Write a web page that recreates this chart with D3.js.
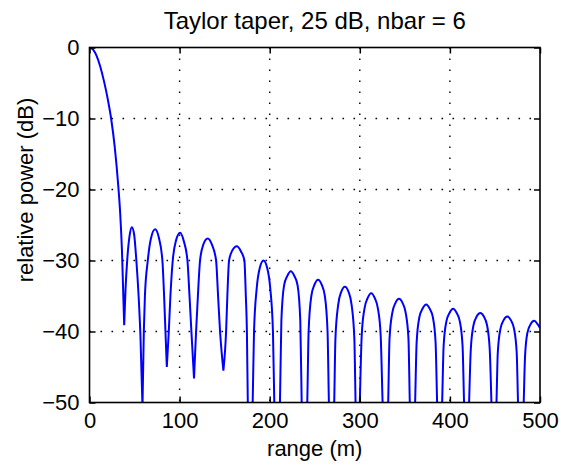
<!DOCTYPE html>
<html>
<head>
<meta charset="utf-8">
<script src="https://cdn.jsdelivr.net/npm/d3@7"></script>
<style>
  html, body { margin: 0; padding: 0; background: #fff; }
  svg { display: block; }
  text { font-family: "Liberation Sans", Arial, Helvetica, sans-serif; fill: #000; }
</style>
</head>
<body>
<svg id="chart" width="561" height="466"></svg>
<script>
// ---- data ----
const titleText = "Taylor taper, 25 dB, nbar = 6";
const xLabelText = "range (m)";
const yLabelText = "relative power (dB)";
const xTicks = [0, 100, 200, 300, 400, 500];
const yTicks = [0, -10, -20, -30, -40, -50];
const xGrid = [100, 200, 300, 400];
const yGrid = [-10, -20, -30, -40];

// range (m) samples of the pattern
const rangeM = [
  0, 4, 8, 12, 16, 20, 24, 28, 32, 34, 36, 38.5,
  40, 42, 44.5, 47, 49.5, 52, 54.5, 56.5, 58.8,
  60.3, 61.5, 64.7, 68, 72.8, 77, 80.9, 82.8, 84.3, 85.8,
  88, 89.8, 92.4, 96, 100.6, 104.5, 108.7, 111, 113.1, 116,
  118.3, 120.3, 122.7, 126.5, 131.2, 136, 140.5, 142.7, 144.9, 148.6,
  151.6, 153, 154.9, 158.5, 163.4, 168, 171.9, 173.5, 174.7, 175.7, 178.2,
  181.1, 182.6, 185.6, 189.1, 193.1, 197.1, 200.6, 203.6, 205.1, 208.25,
  211.4, 212.95, 215.95, 219.45, 223.45, 227.45, 230.95, 233.95, 235.5, 238.6,
  241.7, 243.2, 246.2, 249.7, 253.7, 257.7, 261.2, 264.2, 265.7, 268.65,
  271.6, 272.95, 275.95, 279.45, 283.45, 287.45, 290.95, 293.95, 295.3, 297.65,
  300, 302.15, 305.15, 308.65, 312.65, 316.65, 320.15, 323.15, 325.3, 328.4,
  331.5, 333, 336, 339.5, 343.5, 347.5, 351, 354, 355.5, 358.45,
  361.4, 363.1, 366.1, 369.6, 373.6, 377.6, 381.1, 384.1, 385.8, 388.6,
  391.4, 393.05, 396.05, 399.55, 403.55, 407.55, 411.05, 414.05, 415.7, 418.5,
  421.3, 423.2, 426.2, 429.7, 433.7, 437.7, 441.2, 444.2, 446.1, 448.9,
  451.7, 453.15, 456.15, 459.65, 463.65, 467.65, 471.15, 474.15, 475.6, 478.75,
  481.9, 483.4, 486, 489.5, 493.5, 497.5, 500
];
// relative power (dB) at those samples
const powerDb = [
  0, -0.3, -1.2, -2.7, -4.7, -7.1, -10, -14, -19.6, -23.2, -28.5, -39.1,
  -34, -29.7, -26.5, -25.3, -26.3, -30, -35, -40.5, -50.5,
  -40, -35, -30, -27, -25.6, -26.8, -30, -35, -40, -45,
  -40, -35, -30, -27.2, -26.1, -27.2, -30, -35, -40, -46.6,
  -40, -35, -30, -27.7, -26.9, -27.8, -30, -35, -40, -45.5,
  -40, -35, -30, -28.6, -28, -28.7, -30, -35, -40, -50, -62,
  -50, -40, -33.9, -31, -30, -31, -33.9, -40, -50, -62,
  -50, -38.5, -33.5, -32.2, -31.5, -32.2, -33.5, -38.5, -50, -62,
  -50, -40, -35, -33.4, -32.7, -33.4, -35, -40, -50, -62,
  -50, -41, -36.3, -34.4, -33.7, -34.4, -36.3, -41, -50, -62,
  -50, -40.5, -36.8, -35.3, -34.6, -35.3, -36.8, -40.5, -50, -62,
  -50, -41, -37.4, -36, -35.4, -36, -37.4, -41, -50, -62,
  -50, -41.5, -38, -36.8, -36.2, -36.8, -38, -41.5, -50, -62,
  -50, -42, -38.6, -37.4, -36.8, -37.4, -38.6, -42, -50, -62,
  -50, -42.5, -39.1, -37.9, -37.4, -37.9, -39.1, -42.5, -50, -62,
  -50, -43, -39.6, -38.4, -37.9, -38.4, -39.6, -43, -50, -62,
  -50, -43.5, -40.2, -39, -38.5, -39, -39.5
];
// null positions (m) where the pattern has its cusps
const nullRange = [38.5, 58.8, 85.8, 116, 148.6, 178.2, 208.25, 238.6, 268.65,
  297.65, 328.4, 358.45, 388.6, 418.5, 448.9, 478.75];

// ---- layout ----
const svg = d3.select("#chart");
const L = 89.5, R = 540, T = 47.5, B = 402.5;
const x = d3.scaleLinear().domain([0, 500]).range([L, R]);
const y = d3.scaleLinear().domain([-50, 0]).range([B, T]);
const FS = 22;

// grid
const grid = svg.append("g").attr("stroke", "#000").attr("stroke-width", 1.4)
  .attr("stroke-dasharray", "1.6,9.4").attr("fill", "none");
grid.selectAll(".vg").data(xGrid).join("line")
  .attr("x1", d => x(d)).attr("x2", d => x(d)).attr("y1", T).attr("y2", B);
grid.selectAll(".hg").data(yGrid).join("line")
  .attr("y1", d => y(d)).attr("y2", d => y(d)).attr("x1", L).attr("x2", R);

// curve (split into lobes at nulls so cusps stay sharp)
const pts = rangeM.map((r, i) => [r, powerDb[i]]);
const lobes = [];
let cur = [];
pts.forEach(p => {
  cur.push(p);
  if (nullRange.includes(p[0])) { lobes.push(cur); cur = [p]; }
});
if (cur.length > 1) lobes.push(cur);

svg.append("clipPath").attr("id", "clip").append("rect")
  .attr("x", L).attr("y", T - 1).attr("width", R - L).attr("height", B - T + 1);
const line = d3.line().x(d => x(d[0])).y(d => y(d[1])).curve(d3.curveMonotoneX);
svg.append("path")
  .attr("clip-path", "url(#clip)")
  .attr("d", lobes.map(l => line(l)).join(""))
  .attr("fill", "none").attr("stroke", "#0000ff").attr("stroke-width", 2)
  .attr("stroke-linejoin", "round");

// axes
const fmt = d => d3.format("d")(d).replace("-", "\u2212");
const xAxis = svg.append("g").attr("transform", `translate(0,${B})`)
  .call(d3.axisBottom(x).tickValues(xTicks).tickSize(-6).tickPadding(10).tickFormat(fmt));
const xAxisTop = svg.append("g").attr("transform", `translate(0,${T})`)
  .call(d3.axisTop(x).tickValues(xTicks).tickSize(-6).tickFormat(""));
const yAxis = svg.append("g").attr("transform", `translate(${L},0)`)
  .call(d3.axisLeft(y).tickValues(yTicks).tickSize(-6).tickPadding(10).tickFormat(fmt));
const yAxisR = svg.append("g").attr("transform", `translate(${R},0)`)
  .call(d3.axisRight(y).tickValues(yTicks).tickSize(-6).tickFormat(""));
[xAxis, xAxisTop, yAxis, yAxisR].forEach(g => {
  g.select(".domain").remove();
  g.selectAll(".tick line").attr("stroke", "#000").attr("stroke-width", 1.5);
  g.selectAll("text").attr("font-size", FS).attr("fill", "#000")
    .attr("font-family", "'Liberation Sans', Arial, sans-serif");
});

// frame
svg.append("rect").attr("x", L).attr("y", T).attr("width", R - L).attr("height", B - T)
  .attr("fill", "none").attr("stroke", "#000").attr("stroke-width", 1.6);

// title & labels
svg.append("text").attr("x", (L + R) / 2).attr("y", 29).attr("text-anchor", "middle")
  .attr("font-size", 24).text(titleText);
svg.append("text").attr("x", (L + R) / 2).attr("y", 456).attr("text-anchor", "middle")
  .attr("font-size", FS).text(xLabelText);
svg.append("text").attr("transform", "translate(33,190) rotate(-90)")
  .attr("text-anchor", "middle").attr("font-size", FS).text(yLabelText);
</script>
</body>
</html>
